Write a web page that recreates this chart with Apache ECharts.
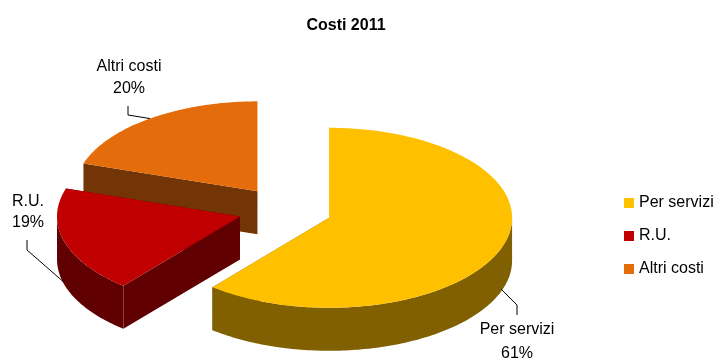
<!DOCTYPE html>
<html>
<head>
<meta charset="utf-8">
<script src="https://cdn.jsdelivr.net/npm/echarts@6/dist/echarts.min.js"></script>
<style>html,body{margin:0;padding:0;background:#fff}#c{width:720px;height:361px}</style>
</head>
<body>
<div id="c"></div>
<script>
const title = 'Costi 2011';
const categories = ['Per servizi', 'R.U.', 'Altri costi'];
const values = [61, 19, 20];
const topColors = ['#FFC000', '#C00000', '#E46C0A'];
const sideColors = ['#806000', '#600000', '#733506'];

// layout (not data)
const C = [285, 210], RX = 183, RY = 90, DEPTH = 43, EXPLODE = 0.256;
const labelPos = [[517, 330, 354], [28, 202, 223], [129, 67, 89]];
const labelElbow = [[[517, 305], [517, 315]], [[27, 250], [27, 240]], [[128, 115], [128, 106]]];

const total = values.reduce((a, b) => a + b, 0);
const starts = [];
let acc = 0;
values.forEach(v => { starts.push(acc / total * 360); acc += v; });

function rad(d) { return d * Math.PI / 180; }
function pt(c, a, dy) { return [c[0] + RX * Math.sin(rad(a)), c[1] - RY * Math.cos(rad(a)) + (dy || 0)]; }
function arc(c, a0, a1, dy) {
  const pts = [];
  const n = Math.max(2, Math.ceil(Math.abs(a1 - a0)));
  for (let k = 0; k <= n; k++) pts.push(pt(c, a0 + (a1 - a0) * k / n, dy));
  return pts;
}

function makeRender(i) {
  return function (params, api) {
    const a0 = starts[i];
    const a1 = starts[i] + values[i] / total * 360;
    const mid = (a0 + a1) / 2;
    const c = [C[0] + EXPLODE * RX * Math.sin(rad(mid)), C[1] - EXPLODE * RY * Math.cos(rad(mid))];
    const children = [];
    const side = sideColors[i];
    // radial faces
    [a0, a1].forEach(a => {
      const p = pt(c, a);
      children.push({ type: 'polygon', shape: { points: [c, p, [p[0], p[1] + DEPTH], [c[0], c[1] + DEPTH]] }, style: { fill: side } });
    });
    // curved front side
    const f0 = Math.max(a0, 90), f1 = Math.min(a1, 270);
    if (f1 > f0) {
      const top = arc(c, f0, f1, 0);
      const bot = arc(c, f0, f1, DEPTH).reverse();
      children.push({ type: 'polygon', shape: { points: top.concat(bot) }, style: { fill: side } });
    }
    // top face
    children.push({ type: 'polygon', shape: { points: [c].concat(arc(c, a0, a1, 0)) }, style: { fill: topColors[i] } });
    // label line
    const front = Math.cos(rad(mid)) < 0;
    const anchor = pt(c, mid, front ? DEPTH - 2 : 0);
    children.push({ type: 'polyline', shape: { points: [anchor].concat(labelElbow[i]) }, style: { stroke: '#000', lineWidth: 1, fill: null } });
    const pct = Math.round(values[i] / total * 100) + '%';
    const lp = labelPos[i];
    children.push({ type: 'text', style: { text: categories[i], x: lp[0], y: lp[1], fill: '#000', font: '16px "Liberation Sans", Arial, sans-serif', align: 'center', verticalAlign: 'middle' } });
    children.push({ type: 'text', style: { text: pct, x: lp[0], y: lp[2], fill: '#000', font: '16px "Liberation Sans", Arial, sans-serif', align: 'center', verticalAlign: 'middle' } });
    return { type: 'group', children: children };
  };
}

const drawOrder = [2, 1, 0];
const series = drawOrder.map(i => ({
  type: 'custom',
  name: categories[i],
  coordinateSystem: 'none',
  silent: true,
  animation: false,
  itemStyle: { color: topColors[i] },
  data: [[values[i]]],
  renderItem: makeRender(i)
}));

const chart = echarts.init(document.getElementById('c'), null, { renderer: 'canvas' });
chart.setOption({
  animation: false,
  title: { text: title, left: 341, top: 13, textAlign: 'center', textStyle: { fontFamily: '"Liberation Sans", Arial, sans-serif', fontSize: 16, fontWeight: 'bold', color: '#000' } },
  legend: {
    data: categories, orient: 'vertical', left: 619, top: 190, icon: 'rect', itemWidth: 10, itemHeight: 10, itemGap: 17,
    selectedMode: false,
    textStyle: { fontFamily: '"Liberation Sans", Arial, sans-serif', fontSize: 16, color: '#000' }
  },
  series: series
});
</script>
</body>
</html>
